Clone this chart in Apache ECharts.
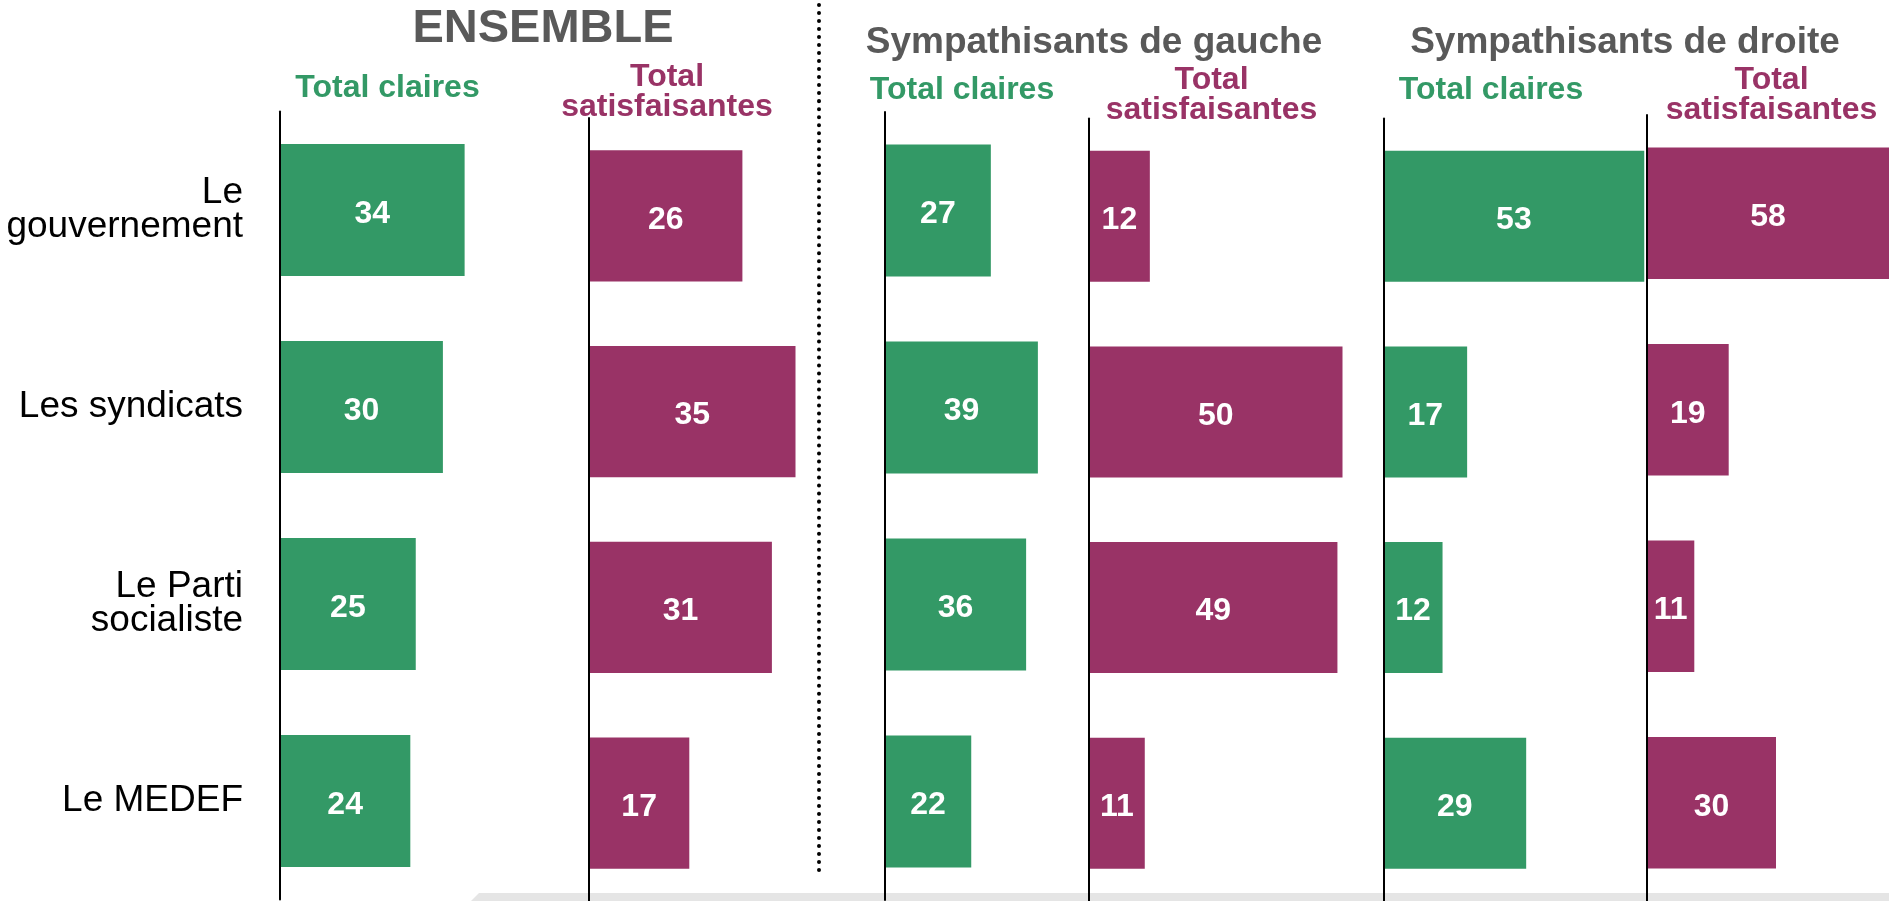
<!DOCTYPE html>
<html>
<head>
<meta charset="utf-8">
<script src="https://cdn.jsdelivr.net/npm/echarts@6/dist/echarts.min.js"></script>
<style>
  html, body { margin: 0; padding: 0; background: #fff; }
  #chart { width: 1889px; height: 901px; }
</style>
</head>
<body>
<div id="chart"></div>
<script>
// categories (top to bottom)
var categories = ['Le\ngouvernement', 'Les syndicats', 'Le Parti\nsocialiste', 'Le MEDEF'];

// values, in %
var ensembleClaires = [34, 30, 25, 24];
var ensembleSatisf = [26, 35, 31, 17];
var gaucheClaires = [27, 39, 36, 22];
var gaucheSatisf = [12, 50, 49, 11];
var droiteClaires = [53, 17, 12, 29];
var droiteSatisf = [58, 19, 11, 30];

var GREEN = '#339966';
var PURPLE = '#993366';
var FONT = '"Liberation Sans", Arial, sans-serif';

// one small panel per column: left edge, px per point, top edge, visible width
var panels = [
  { data: ensembleClaires, color: GREEN, left: 280, scale: 5.43, top: 111.5, width: 320 },
  { data: ensembleSatisf, color: PURPLE, left: 589, scale: 5.9, top: 118, width: 320 },
  { data: gaucheClaires, color: GREEN, left: 885, scale: 3.92, top: 112, width: 320 },
  { data: gaucheSatisf, color: PURPLE, left: 1089, scale: 5.07, top: 118.5, width: 320 },
  { data: droiteClaires, color: GREEN, left: 1383.5, scale: 4.92, top: 118.5, width: 320 },
  // last panel runs off the right edge, the 58 bar is cut there
  { data: droiteSatisf, color: PURPLE, left: 1647, scale: 4.3, top: 115, width: 242 }
];

var grids = [], xAxes = [], yAxes = [], series = [];
panels.forEach(function (p, i) {
  grids.push({ left: p.left, top: p.top, width: p.width, height: 788 });
  xAxes.push({ type: 'value', gridIndex: i, min: 0, max: p.width / p.scale, show: false });
  yAxes.push({
    type: 'category',
    gridIndex: i,
    data: categories,
    inverse: true,
    axisTick: { show: false },
    axisLine: { show: true, lineStyle: { color: '#000', width: 2 } },
    axisLabel: {
      show: i === 0,
      fontFamily: FONT,
      fontSize: 37,
      lineHeight: 34,
      color: '#000',
      margin: 37,
      align: 'right',
      padding: [0, 0, 14, 0]
    },
    z: 5
  });
  series.push({
    type: 'bar',
    xAxisIndex: i,
    yAxisIndex: i,
    data: p.data,
    barWidth: '67%',
    clip: true,
    itemStyle: { color: p.color },
    label: {
      show: true,
      position: 'inside',
      offset: [0, 4],
      color: '#fff',
      fontFamily: FONT,
      fontWeight: 'bold',
      fontSize: 32
    }
  });
});

function headText(text, x, y, color) {
  return {
    type: 'text',
    z: 10,
    style: {
      text: text,
      x: x,
      y: y,
      textAlign: 'center',
      textVerticalAlign: 'middle',
      font: 'bold 32px ' + FONT,
      lineHeight: 30,
      fill: color
    }
  };
}
function groupTitle(text, x, y, size) {
  return {
    type: 'text',
    z: 10,
    style: {
      text: text,
      x: x,
      y: y,
      textAlign: 'center',
      textVerticalAlign: 'middle',
      font: 'bold ' + size + 'px ' + FONT,
      fill: '#595959',
      shadowColor: '#c8c8c8',
      shadowOffsetX: 2,
      shadowOffsetY: 2,
      shadowBlur: 0
    }
  };
}

var option = {
  animation: false,
  backgroundColor: '#fff',
  grid: grids,
  xAxis: xAxes,
  yAxis: yAxes,
  series: series,
  graphic: [
    // light grey band at the bottom
    {
      type: 'polygon',
      z: -10,
      shape: { points: [[471, 901], [479, 893], [1889, 893], [1889, 901]] },
      style: { fill: '#e5e5e5' }
    },
    // dotted separator
    {
      type: 'line',
      z: 10,
      shape: { x1: 819, y1: 5, x2: 819, y2: 871 },
      style: { stroke: '#000', lineWidth: 4, lineDash: [0.01, 8], lineCap: 'round' }
    },
    groupTitle('ENSEMBLE', 543, 29, 47),
    groupTitle('Sympathisants de gauche', 1094, 43, 37),
    groupTitle('Sympathisants de droite', 1625, 43, 37),
    headText('Total claires', 387.5, 88, GREEN),
    headText('Total\nsatisfaisantes', 667, 92, PURPLE),
    headText('Total claires', 962, 90, GREEN),
    headText('Total\nsatisfaisantes', 1211.5, 95, PURPLE),
    headText('Total claires', 1491, 90, GREEN),
    headText('Total\nsatisfaisantes', 1771.5, 95, PURPLE)
  ]
};

var myChart = echarts.init(document.getElementById('chart'));
myChart.setOption(option);
</script>
</body>
</html>
